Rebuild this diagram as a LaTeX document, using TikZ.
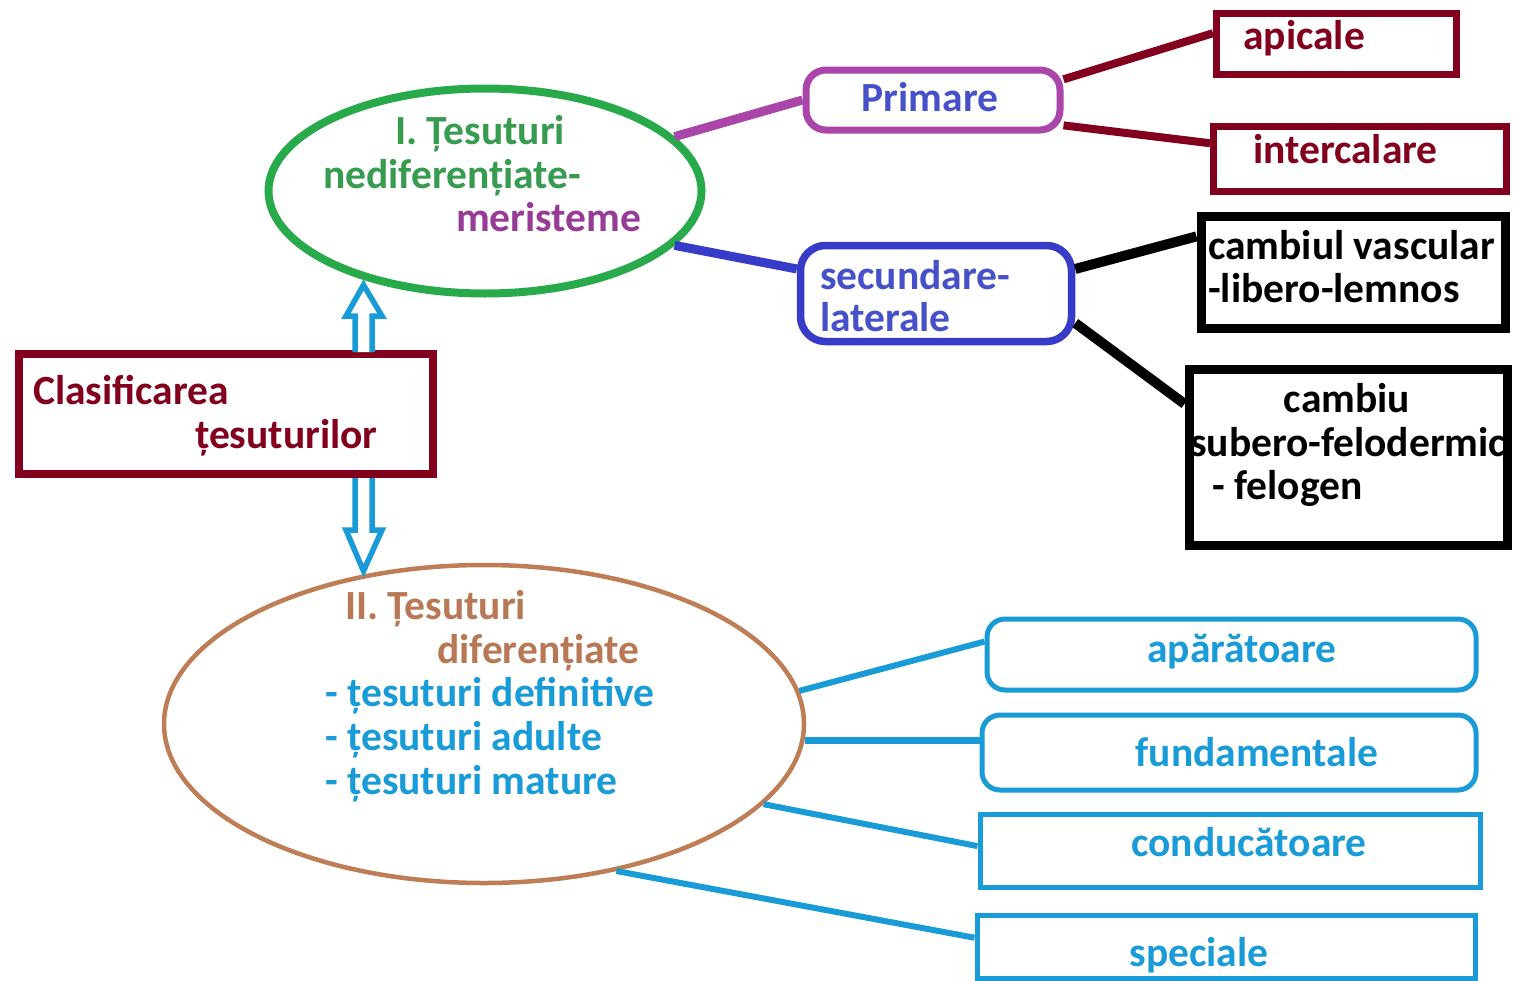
\documentclass[tikz,border=0pt]{standalone}
\usepackage{fontspec}
\setmainfont{Carlito}
\usepackage{xcolor}
\usetikzlibrary{shapes,calc}

\definecolor{bordo}{RGB}{130,0,30}
\definecolor{verde}{RGB}{40,170,75}
\definecolor{verdetxt}{RGB}{55,155,80}
\definecolor{mov}{RGB}{170,70,170}
\definecolor{movtxt}{RGB}{150,60,150}
\definecolor{albastru}{RGB}{55,60,200}
\definecolor{albtxt}{RGB}{70,80,200}
\definecolor{maro}{RGB}{190,125,85}
\definecolor{marotxt}{RGB}{185,120,85}
\definecolor{bleu}{RGB}{25,155,215}

\begin{document}
\begin{tikzpicture}[
x=1pt, y=-1pt,
txt/.style={font=\fontsize{41.5}{44}\selectfont\bfseries, inner sep=0pt, anchor=base west},
ctxt/.style={txt, anchor=base},
oval/.style={ellipse, draw, inner sep=0pt},
box/.style={draw, rectangle, inner sep=0pt},
rbox/.style={box, rounded corners=#1},
link/.style={line width=#1, line cap=butt},
hollow/.style={draw=bleu, line width=5.5pt, line join=miter, fill=white},
]
\path[fill=white, use as bounding box] (0,0) rectangle (1514,980);

% ellipses and boxes
\node[oval, draw=verde, line width=8pt, minimum width=433pt, minimum height=205pt] (nedif) at (485,191) {};
\node[oval, draw=maro, line width=4.5pt, minimum width=640pt, minimum height=318pt] (dif) at (484,724) {};
\node[box, draw=bordo, line width=8pt, minimum width=414pt, minimum height=120pt] (clas) at (226,414) {};
\node[rbox=20pt, draw=mov, line width=7pt, minimum width=254pt, minimum height=60pt] (prim) at (933,100) {};
\node[rbox=25pt, draw=albastru, line width=7.5pt, minimum width=271pt, minimum height=96pt] (sec) at (936,293.5) {};
\node[box, draw=bordo, line width=7pt, minimum width=240pt, minimum height=61pt] (api) at (1336.5,44) {};
\node[box, draw=bordo, line width=7pt, minimum width=293pt, minimum height=65pt] (inter) at (1360,159) {};
\node[box, draw=black, line width=9pt, minimum width=304pt, minimum height=112pt] (camb) at (1353,272.5) {};
\node[box, draw=black, line width=9pt, minimum width=318pt, minimum height=176pt] (subero) at (1348,457) {};
\node[rbox=18pt, draw=bleu, line width=5pt, minimum width=489pt, minimum height=71pt] (apar) at (1231.5,654.5) {};
\node[rbox=18pt, draw=bleu, line width=5pt, minimum width=494pt, minimum height=75pt] (fund) at (1229,752.5) {};
\node[box, draw=bleu, line width=5pt, minimum width=500pt, minimum height=73pt] (cond) at (1230,850.5) {};
\node[box, draw=bleu, line width=5pt, minimum width=498pt, minimum height=63pt] (spec) at (1226,946.5) {};

% texts
\node[txt, verdetxt] (t1) at (395,144) {I. Țesuturi};
\node[txt, verdetxt] (t2) at (323,188) {nediferențiate-};
\node[txt, movtxt] (t3) at (456,231) {meristeme};
\node[txt, bordo] (c1) at (33,404) {Clasificarea};
\node[txt, bordo] (c2) at (195,448) {țesuturilor};
\node[txt, marotxt] (d1) at (345,619) {II. Țesuturi};
\node[txt, marotxt] (d2) at (437,663) {diferențiate};
\node[txt, bleu] (d3) at (325,706) {- țesuturi definitive};
\node[txt, bleu] (d4) at (325,750) {- țesuturi adulte};
\node[txt, bleu] (d5) at (325,794) {- țesuturi mature};
\node[ctxt, albtxt] (p1) at (930,111) {Primare};
\node[txt, albtxt] (s1) at (820,289) {secundare-};
\node[txt, albtxt] (s2) at (820,331) {laterale};
\node[txt, bordo] (a1) at (1243,49) {apicale};
\node[txt, bordo] (i1) at (1253,163) {intercalare};
\node[txt] (v1) at (1208,259) {cambiul vascular};
\node[txt] (v2) at (1208,302) {-libero-lemnos};
\node[ctxt] (f1) at (1347,412) {cambiu};
\node[txt] (f2) at (1190,456) {subero-felodermic};
\node[txt] (f3) at (1212,499) {- felogen};
\node[ctxt, bleu] (b1) at (1242,662) {apărătoare};
\node[ctxt, bleu] (b2) at (1257,766) {fundamentale};
\node[ctxt, bleu] (b3) at (1249,856) {conducătoare};
\node[ctxt, bleu] (b4) at (1199,966) {speciale};

% connectors
\draw[link=9pt, mov] (nedif.16) -- (prim.west);
\draw[link=9pt, albastru] (nedif.-16) -- (sec.170);
\draw[link=8pt, bordo] (prim.9) -- (api.175);
\draw[link=8pt, bordo] (prim.-11) -- (inter.174);
\draw[link=10pt] (sec.10) -- (camb.167);
\draw[link=10pt] (sec.-12) -- (subero.162);
\draw[link=6pt, bleu] (dif.6) -- (apar.177);
\draw[link=7pt, bleu] (dif.-3) -- (dif.-3 -| fund.west);
\draw[link=6pt, bleu] (dif.-16) -- (cond.179);
\draw[link=6pt, bleu] (dif.-48) -- (spec.178);

% hollow arrows
\coordinate (upfoot) at (363.5,352);
\coordinate (uptip) at (363.5,285);
\coordinate (dnfoot) at (363.5,478);
\coordinate (dntip) at (363.5,571);
\draw[hollow] ($(upfoot)+(-8.5,0)$) |- ($(uptip)+(-17.5,31)$) -- (uptip) -- ($(uptip)+(18.5,31)$) -| ($(upfoot)+(8.5,0)$);
\draw[hollow] ($(dnfoot)+(-8.5,0)$) |- ($(dntip)+(-17.5,-41)$) -- (dntip) -- ($(dntip)+(18.5,-41)$) -| ($(dnfoot)+(8.5,0)$);
\end{tikzpicture}
\end{document}
